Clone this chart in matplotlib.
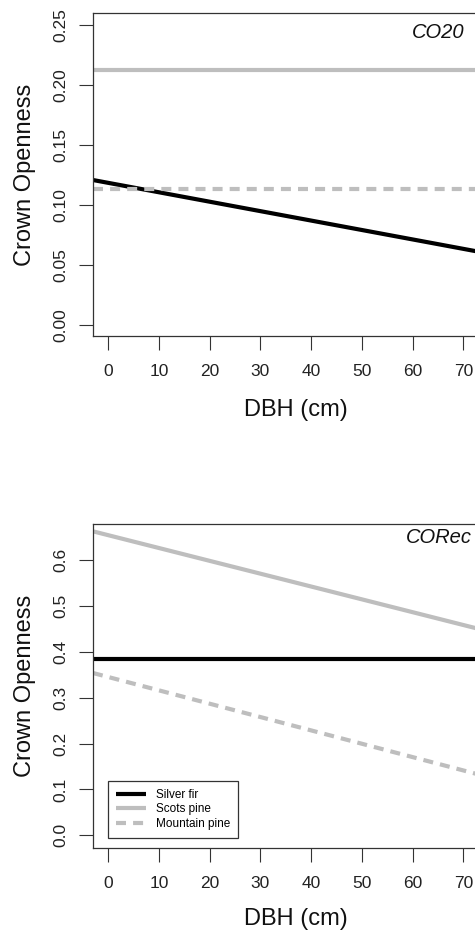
import numpy as np
import matplotlib
matplotlib.use('Agg')
import matplotlib.pyplot as plt

plt.rcParams['font.family'] = ['Liberation Sans', 'DejaVu Sans']

# DBH range covered by the fitted lines (edges of the plot box)
dbh = [-3, 77]
species = ['Silver fir', 'Scots pine', 'Mountain pine']

# CO20 panel: crown openness at the two DBH ends
co20_fir = [0.1208, 0.0579]
co20_scots = [0.2125, 0.2125]
co20_mugo = [0.113, 0.113]

# CORec panel
corec_fir = [0.384, 0.384]
corec_scots = [0.663, 0.439]
corec_mugo = [0.354, 0.121]

xticks = np.arange(0, 71, 10)
yticks_top = [0.00, 0.05, 0.10, 0.15, 0.20, 0.25]
yticks_bot = [0.0, 0.1, 0.2, 0.3, 0.4, 0.5, 0.6]

grey = '#bebebe'
lw = 3.0

fig = plt.figure(figsize=(4.75, 9.3), dpi=100)
ax1 = fig.add_axes([93/475, 1-336/930, 406/475, 323/930])
ax2 = fig.add_axes([93/475, 1-848/930, 406/475, 324/930])


def style(ax, yticks, fmt, ylim, tag, tagx, tagy, xpad):
    ax.set_xlim(-3, 77)
    ax.set_ylim(*ylim)
    ax.set_xticks(xticks)
    ax.set_yticks(yticks)
    ax.set_yticklabels([fmt.format(v) for v in yticks], rotation=90, va='center')
    ax.tick_params(axis='both', direction='out', length=10, width=0.8,
                   labelsize=12.5, color='#333333', labelcolor='#222222')
    ax.tick_params(axis='x', pad=10)
    ax.tick_params(axis='y', pad=8)
    ax.spines['right'].set_visible(False)
    for s in ['left', 'top', 'bottom']:
        ax.spines[s].set_linewidth(0.9)
        ax.spines[s].set_color('#333333')
    ax.set_xlabel('DBH (cm)', fontsize=17, labelpad=xpad, color='#111111')
    ax.set_ylabel('Crown Openness', fontsize=17, labelpad=12.5, color='#111111')
    ax.text(tagx, tagy, tag, transform=ax.transAxes, ha='right', va='center',
            fontsize=14.5, style='italic', color='#111111')


# top panel
ax1.plot(dbh, co20_fir, color='black', lw=lw, solid_capstyle='butt')
ax1.plot(dbh, co20_scots, color=grey, lw=lw, solid_capstyle='butt')
ax1.plot(dbh, co20_mugo, color=grey, lw=lw, dashes=(2.4, 1.7), dash_capstyle='butt')
style(ax1, yticks_top, '{:.2f}', (-0.0092, 0.26), 'CO20', 0.916, 0.941, 14.5)

# bottom panel
ax2.plot(dbh, corec_fir, color='black', lw=lw, solid_capstyle='butt', label=species[0])
ax2.plot(dbh, corec_scots, color=grey, lw=lw, solid_capstyle='butt', label=species[1])
ax2.plot(dbh, corec_mugo, color=grey, lw=lw, dashes=(2.4, 1.7), dash_capstyle='butt',
         label=species[2])
style(ax2, yticks_bot, '{:.1f}', (-0.0277, 0.679), 'CORec', 0.933, 0.957, 12.5)

leg = ax2.legend(loc='lower left', bbox_to_anchor=(0.037, 0.031), borderaxespad=0,
                 fontsize=8.5, handlelength=2.5, handletextpad=0.85,
                 labelspacing=0.2, borderpad=0.7, fancybox=False, framealpha=1)
leg.get_frame().set_edgecolor('#333333')
leg.get_frame().set_linewidth(0.9)

fig.savefig('out.png', dpi=100)
